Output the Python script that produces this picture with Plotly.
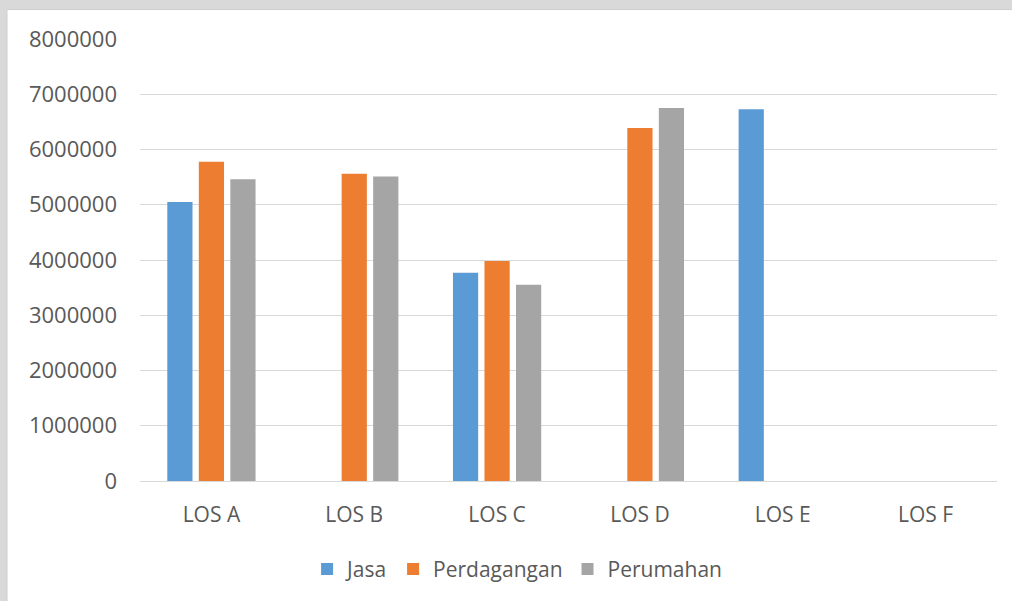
import plotly.graph_objects as go

# Level-of-service categories and series values
categories = ["LOS A", "LOS B", "LOS C", "LOS D", "LOS E", "LOS F"]
jasa = [5050000, None, 3770000, None, 6730000, None]
perdagangan = [5780000, 5560000, 3980000, 6390000, None, None]
perumahan = [5460000, 5510000, 3550000, 6750000, None, None]
y_ticks = [0, 1000000, 2000000, 3000000, 4000000, 5000000, 6000000, 7000000, 8000000]

series = [
    ("Jasa", jasa, "#5B9BD5"),
    ("Perdagangan", perdagangan, "#ED7D31"),
    ("Perumahan", perumahan, "#A5A5A5"),
]

W, H = 1012, 601
L, R, T, B = 140, 15, 39, 119
pw, ph = W - L - R, H - T - B
TEXT = "#595959"
FONT = "Open Sans"

fig = go.Figure()
for name, vals, color in series:
    fig.add_trace(go.Bar(
        name=name, x=categories, y=vals,
        marker=dict(color=color, line=dict(width=0)),
    ))

def px_x(p):
    return (p - L) / pw

def px_y(p):
    return (H - B - p) / ph

# white chart panel on a grey page strip (top and left edges)
fig.add_shape(type="rect", xref="paper", yref="paper", layer="below",
              x0=px_x(7), x1=px_x(W + 5), y0=px_y(H + 5), y1=px_y(9.5),
              fillcolor="white", line=dict(color="#CFCFCF", width=1))

fig.update_layout(
    width=W, height=H,
    margin=dict(l=L, r=R, t=T, b=B, pad=0),
    paper_bgcolor="#D9D9D9",
    plot_bgcolor="rgba(0,0,0,0)",
    barmode="group",
    bargap=0.338,
    bargroupgap=0.2,
    font=dict(family=FONT, color=TEXT, size=21),
    showlegend=True,
    legend=dict(orientation="h", x=0.44, xanchor="center", y=-0.197, yanchor="middle",
                font=dict(family=FONT, size=21, color=TEXT), bgcolor="rgba(0,0,0,0)",
                itemwidth=30, traceorder="normal"),
)
fig.update_xaxes(showgrid=False, showline=False, zeroline=False, ticks="",
                 tickfont=dict(family=FONT, size=21, color=TEXT), ticklabelstandoff=19)
fig.update_yaxes(range=[0, 8000000], tickvals=y_ticks, ticktext=[str(v) for v in y_ticks],
                 showgrid=True, gridcolor="#D9D9D9", gridwidth=1,
                 zeroline=True, zerolinecolor="#D9D9D9", zerolinewidth=1,
                 showline=False, ticks="", ticklabelstandoff=22,
                 tickfont=dict(family=FONT, size=22, color=TEXT))

fig.write_html("out.html")
